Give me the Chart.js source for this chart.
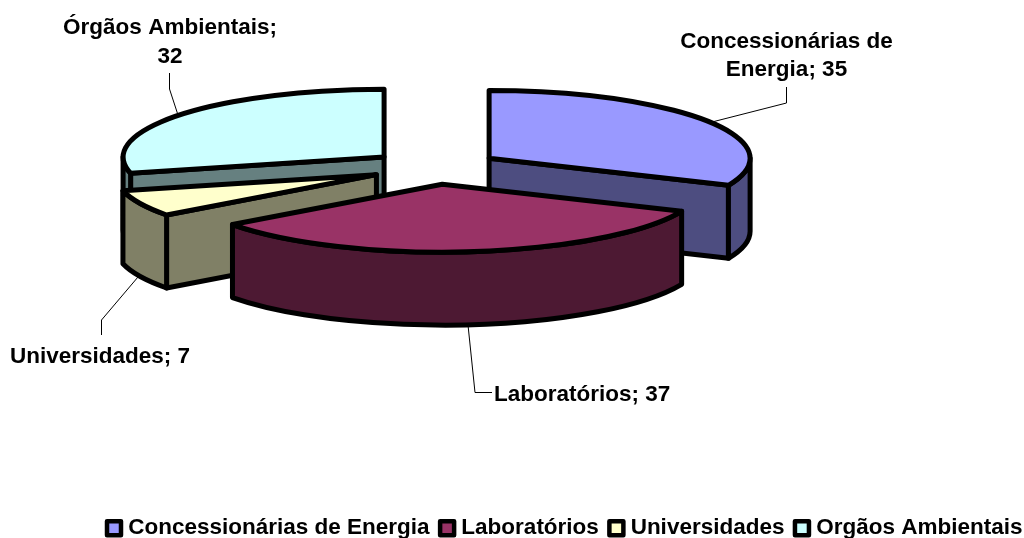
<!DOCTYPE html>
<html>
<head>
<meta charset="utf-8">
<style>html,body{margin:0;padding:0;background:#fff}#w{width:1024px;height:538px;overflow:hidden}</style>
<script src="https://cdn.jsdelivr.net/npm/chart.js@4/dist/chart.umd.min.js"></script>
</head>
<body>
<div id="w"><canvas id="c" width="1024" height="538"></canvas></div>
<script>
const categories = ['Concessionárias de Energia', 'Laboratórios', 'Universidades', 'Orgãos Ambientais'];
const values = [35, 37, 7, 32];
const topColors = ['#9999FF', '#993366', '#FFFFCC', '#CCFFFF'];
const sideColors = ['#4D4D80', '#4D1933', '#808066', '#668080'];
const calloutTexts = [['Concessionárias de', 'Energia; 35'], ['Laboratórios; 37'], ['Universidades; 7'], ['Órgãos Ambientais;', '32']];

const FONT = 'bold 22.5px "Liberation Sans", Arial, sans-serif';
const view = {cx: 435, cy: 167.5, tilt: 0.26, depth: 73, explode: 64.7, stroke: 5};
const paintOrder = [3, 0, 2, 1];
const callouts = [
  {x: 786.5, ys: [48, 76], align: 'center', line: [[786.5, 87], [786.5, 103], [712, 122]]},
  {x: 494, ys: [401], align: 'left', line: [[468, 325], [475, 392.5], [492, 392.5]]},
  {x: 10, ys: [362.5], align: 'left', line: [[101.5, 335], [101.5, 320], [138, 277]]},
  {x: 170, ys: [34, 62.5], align: 'center', line: [[169.5, 73], [169.5, 89], [178, 115]]}
];

const pie3d = {
  id: 'pie3d',
  beforeDatasetDraw(chart) {
    const ctx = chart.ctx;
    const arcs = chart.getDatasetMeta(0).data;
    const {cx, cy, tilt, depth, explode, stroke} = view;
    paintOrder.forEach(i => {
      const arc = arcs[i];
      const s = arc.startAngle, e = arc.endAngle, r = arc.outerRadius, m = (s + e) / 2;
      const ox = cx + explode * Math.cos(m), oy = cy + tilt * explode * Math.sin(m);
      const px = a => ox + r * Math.cos(a), py = a => oy + tilt * r * Math.sin(a);
      const ell = (y0, a, b, ccw) => ctx.ellipse(ox, y0, r, tilt * r, 0, a, b, ccw);
      ctx.save();
      ctx.lineWidth = stroke; ctx.strokeStyle = '#000'; ctx.lineJoin = 'round'; ctx.fillStyle = sideColors[i];
      const face = a => {
        ctx.beginPath(); ctx.moveTo(ox, oy); ctx.lineTo(px(a), py(a));
        ctx.lineTo(px(a), py(a) + depth); ctx.lineTo(ox, oy + depth); ctx.closePath();
        ctx.fill(); ctx.stroke();
      };
      if (Math.cos(s) < -0.01) face(s);
      if (Math.cos(e) > 0.01) face(e);
      [[0, Math.PI], [2 * Math.PI, 3 * Math.PI]].forEach(([lo, hi]) => {
        const a = Math.max(s, lo), b = Math.min(e, hi);
        if (b <= a) return;
        ctx.beginPath(); ell(oy, a, b, false); ell(oy + depth, b, a, true); ctx.closePath();
        ctx.fill(); ctx.stroke();
      });
      // top face: the library's own arc, squashed into the tilted plane
      ctx.save();
      ctx.translate(ox, oy); ctx.scale(1, tilt); ctx.translate(-arc.x, -arc.y);
      arc.draw(ctx);
      ctx.restore();
      ctx.beginPath(); ctx.moveTo(ox, oy); ell(oy, s, e, false); ctx.closePath(); ctx.stroke();
      ctx.restore();
    });
    return false;
  },
  afterDatasetsDraw(chart) {
    const ctx = chart.ctx;
    ctx.save();
    ctx.fillStyle = '#000'; ctx.strokeStyle = '#000'; ctx.lineWidth = 1; ctx.font = FONT; ctx.textBaseline = 'alphabetic';
    callouts.forEach((c, i) => {
      ctx.beginPath();
      c.line.forEach((p, j) => j ? ctx.lineTo(p[0], p[1]) : ctx.moveTo(p[0], p[1]));
      ctx.stroke();
      ctx.textAlign = c.align;
      calloutTexts[i].forEach((t, j) => ctx.fillText(t, c.x, c.ys[j]));
    });
    ctx.restore();
  }
};

new Chart(document.getElementById('c'), {
  type: 'pie',
  data: {labels: categories, datasets: [{data: values, backgroundColor: topColors, borderWidth: 0, borderColor: '#000'}]},
  options: {
    responsive: false, animation: false, radius: 261,
    layout: {padding: {left: 96.5, right: -20, bottom: -11.5}},
    events: [],
    plugins: {
      tooltip: {enabled: false},
      legend: {
        position: 'bottom',
        align: 'start',
        labels: {
          color: '#000', font: {family: '"Liberation Sans", Arial, sans-serif', size: 22.5, weight: 'bold'},
          usePointStyle: true, pointStyle: 'rect', boxWidth: 6, boxHeight: 14, padding: 14.5,
          generateLabels(chart) {
            return categories.map((t, i) => ({text: t, fillStyle: topColors[i], strokeStyle: '#000', lineWidth: 4.5, lineJoin: 'round', pointStyle: 'rect', index: i, hidden: false, fontColor: '#000'}));
          }
        }
      }
    }
  },
  plugins: [pie3d]
});
</script>
</body>
</html>
